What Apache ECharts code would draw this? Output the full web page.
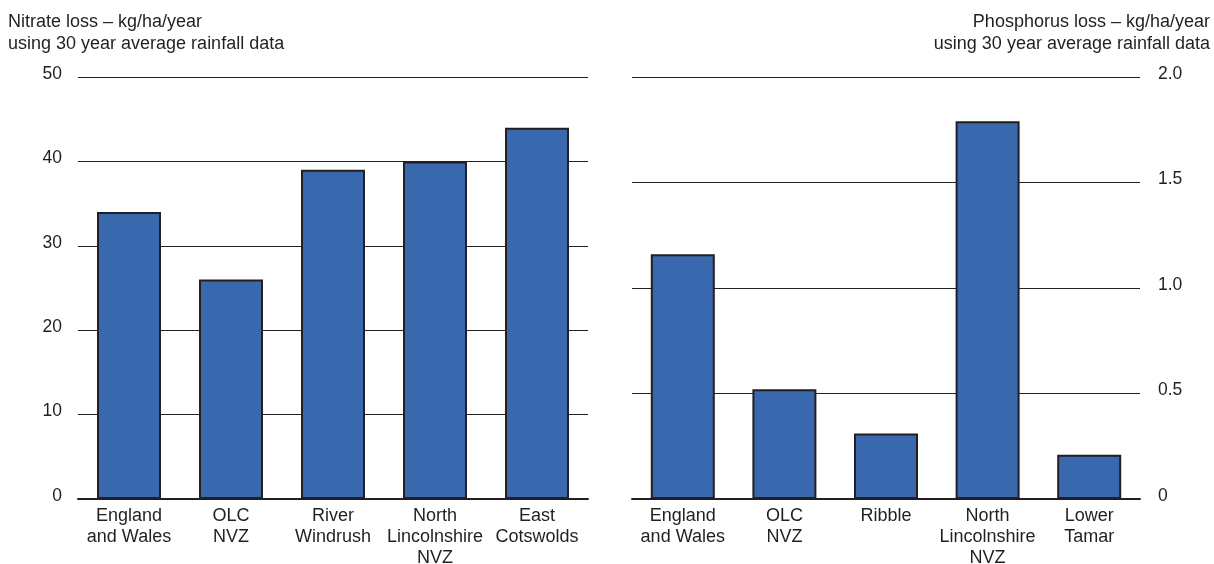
<!DOCTYPE html>
<html>
<head>
<meta charset="utf-8">
<script src="https://cdn.jsdelivr.net/npm/echarts@6/dist/echarts.min.js"></script>
<style>
  html, body { margin: 0; padding: 0; background: #fff; }
  #chart { width: 1214px; height: 564px; }
</style>
</head>
<body>
<div id="chart"></div>
<script>
// nitrate chart (left)
var nitrateSites = ['England\nand Wales', 'OLC\nNVZ', 'River\nWindrush', 'North\nLincolnshire\nNVZ', 'East\nCotswolds'];
var nitrateLoss = [34, 26, 39, 40, 44];
var nitrateTicks = [0, 10, 20, 30, 40, 50];

// phosphorus chart (right)
var phosSites = ['England\nand Wales', 'OLC\nNVZ', 'Ribble', 'North\nLincolnshire\nNVZ', 'Lower\nTamar'];
var phosLoss = [1.16, 0.52, 0.31, 1.79, 0.21];
var phosTicks = ['0', '0.5', '1.0', '1.5', '2.0'];

var FONT = '"Liberation Sans", Arial, sans-serif';
var INK = '#231f20';
var BLUE = '#3a68ae';

var myChart = echarts.init(document.getElementById('chart'));

function catAxis(idx, data) {
    return {
        type: 'category',
        gridIndex: idx,
        data: data,
        axisLine: { show: true, lineStyle: { color: INK, width: 2 } },
        axisTick: { show: false },
        axisLabel: {
            color: INK, fontFamily: FONT, fontSize: 18, lineHeight: 21,
            margin: 7, interval: 0
        }
    };
}

function titleLine(txt, top, side) {  // one line of a chart heading
    var t = { type: 'text', top: top, style: { text: txt, font: '18px ' + FONT, fill: INK } };
    t[side] = side === 'left' ? 8 : 4;
    return t;
}

var option = {
    animation: false,
    backgroundColor: '#fff',
    graphic: [
        titleLine('Nitrate loss \u2013 kg/ha/year', 13, 'left'),
        titleLine('using 30 year average rainfall data', 35, 'left'),
        titleLine('Phosphorus loss \u2013 kg/ha/year', 13, 'right'),
        titleLine('using 30 year average rainfall data', 35, 'right')
    ],
    grid: [
        { left: 78, width: 510, top: 77, bottom: 65, outerBoundsMode: 'none' },
        { left: 632, width: 508, top: 77, bottom: 65, outerBoundsMode: 'none' }
    ],
    xAxis: [catAxis(0, nitrateSites), catAxis(1, phosSites)],
    yAxis: [{
        type: 'value',
        gridIndex: 0,
        min: 0, max: 50, interval: 10,
        axisLine: { show: false },
        axisTick: { show: false },
        splitLine: { lineStyle: { color: INK, width: 1.2 } },
        axisLabel: {
            color: INK, fontFamily: FONT, fontSize: 17.5, margin: 16,
            verticalAlign: 'bottom', lineHeight: 6,
            formatter: function (v) { return nitrateTicks.indexOf(v) >= 0 ? String(v) : ''; }
        }
    }, {
        type: 'value',
        gridIndex: 1,
        position: 'right',
        min: 0, max: 2, interval: 0.5,
        axisLine: { show: false },
        axisTick: { show: false },
        splitLine: { lineStyle: { color: INK, width: 1.2 } },
        axisLabel: {
            color: INK, fontFamily: FONT, fontSize: 17.5, margin: 18,
            verticalAlign: 'bottom', lineHeight: 6,
            formatter: function (v) { return phosTicks[Math.round(v / 0.5)]; }
        }
    }],
    series: [{
        name: 'Nitrate loss',
        type: 'bar',
        xAxisIndex: 0, yAxisIndex: 0,
        data: nitrateLoss,
        barWidth: 64,
        itemStyle: { color: BLUE, borderColor: INK, borderWidth: 2 }
    }, {
        name: 'Phosphorus loss',
        type: 'bar',
        xAxisIndex: 1, yAxisIndex: 1,
        data: phosLoss,
        barWidth: 64,
        itemStyle: { color: BLUE, borderColor: INK, borderWidth: 2 }
    }]
};

myChart.setOption(option);
window.addEventListener('resize', function () {
    myChart.resize();
});
</script>
</body>
</html>
